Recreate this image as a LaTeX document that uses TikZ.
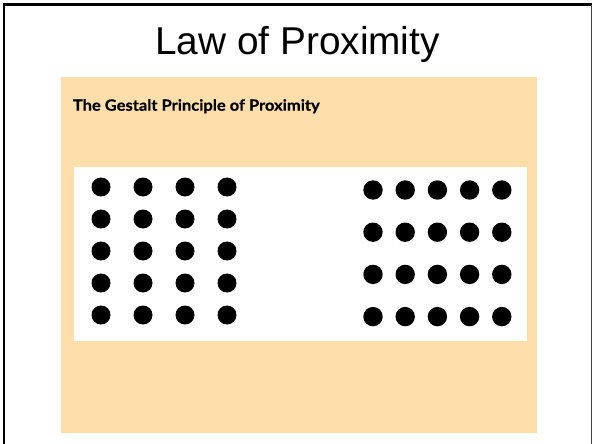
\documentclass[tikz,border=0pt]{standalone}
\usepackage{fontspec}
\usepackage{xcolor}
\setmainfont{Liberation Sans}
\newfontfamily\subfont{Lato}[FakeStretch=1.065,BoldFeatures={FakeBold=0.6}]
\definecolor{peach}{RGB}{254,223,171}

\begin{document}
\begin{tikzpicture}[
 x=1pt,y=-1pt,
 title/.style={anchor=base,inner sep=0pt,font=\fontsize{38.8}{40}\selectfont},
 subtitle/.style={anchor=base west,inner sep=0pt,font=\subfont\bfseries\fontsize{15.5}{17}\selectfont},
 dot/.style={fill=black}
]
\useasboundingbox (0,0) rectangle (592,444);
% slide frame (open at the bottom)
\draw[line width=2.6pt] (4,444) -- (4,4.7) -- (592,4.7);
\draw[line width=1pt,black!75] (591.2,4.7) -- (591.2,444);
\node[title] (heading) at (297.5,54.5) {Law of Proximity};
% picture panel
\fill[peach] (61,77) rectangle (537,433);
\node[subtitle] (caption) at (72.7,110.7) {The Gestalt Principle of Proximity};
\fill[white] (74,167) rectangle (527,340.5);
% four columns, close rows
\foreach \i in {0,...,3}
 \foreach \j in {0,...,4}
  \fill[dot] (101+42*\i,187+32*\j) circle (9.5);
% five columns, close columns
\foreach \i in {0,...,4}
 \foreach \j in {0,...,3}
  \fill[dot] (373+32.2*\i,190+42.2*\j) circle (9.7);
\end{tikzpicture}
\end{document}
